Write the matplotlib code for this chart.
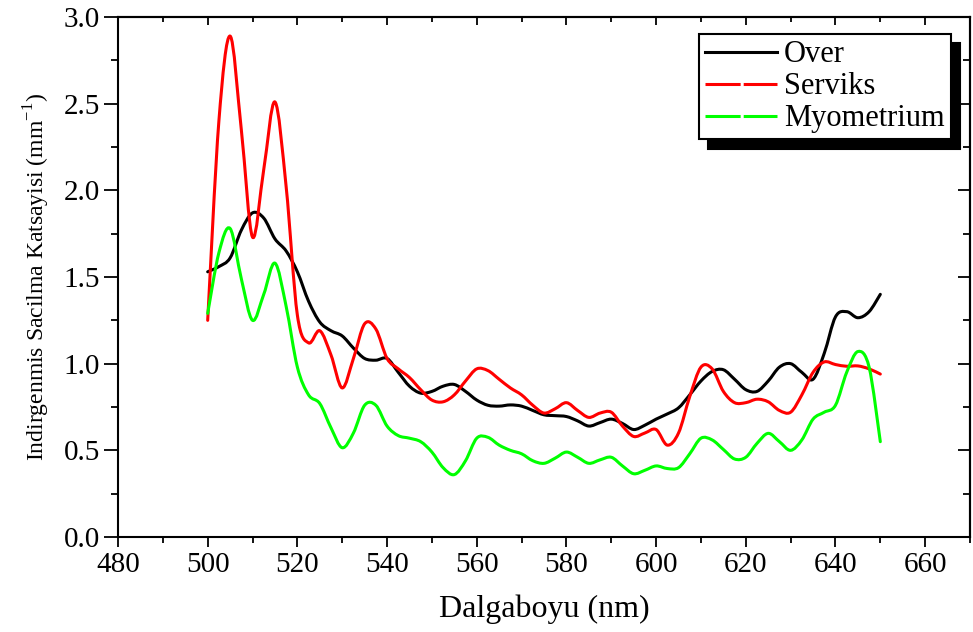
import numpy as np
import matplotlib
matplotlib.use("Agg")
from matplotlib import pyplot as plt
from matplotlib.lines import Line2D
from matplotlib.patches import PathPatch
from matplotlib.path import Path
from matplotlib.ticker import MultipleLocator, FormatStrFormatter


plt.rcParams['font.family'] = ['Liberation Serif', 'DejaVu Serif']
plt.rcParams['mathtext.fontset'] = 'custom'
plt.rcParams['mathtext.rm'] = 'Liberation Serif'

# wavelength grid (nm), one reading every 2.5 nm
wavelength = np.arange(500, 650.1, 2.5)

over = [1.53, 1.56, 1.61, 1.77, 1.87, 1.84, 1.72, 1.65, 1.53, 1.36,
        1.24, 1.19, 1.16, 1.09, 1.03, 1.02, 1.03, 0.95, 0.87, 0.83,
        0.84, 0.87, 0.88, 0.84, 0.79, 0.76, 0.755, 0.762, 0.755, 0.73,
        0.705, 0.70, 0.695, 0.67, 0.64, 0.66, 0.68, 0.655, 0.62, 0.645,
        0.68, 0.71, 0.745, 0.82, 0.90, 0.955, 0.965, 0.91, 0.85, 0.84,
        0.90, 0.98, 1.00, 0.95, 0.91, 1.06, 1.27, 1.30, 1.265, 1.30,
        1.40]

serviks = [1.25, 2.40, 2.89, 2.35, 1.73, 2.12, 2.51, 2.02, 1.28, 1.12,
           1.19, 1.05, 0.86, 1.03, 1.23, 1.20, 1.03, 0.97, 0.92, 0.85,
           0.79, 0.78, 0.82, 0.90, 0.97, 0.96, 0.91, 0.86, 0.82, 0.76,
           0.715, 0.74, 0.775, 0.73, 0.69, 0.715, 0.72, 0.64, 0.58, 0.60,
           0.62, 0.53, 0.60, 0.81, 0.98, 0.97, 0.84, 0.775, 0.775, 0.795,
           0.78, 0.73, 0.72, 0.82, 0.95, 1.01, 0.995, 0.985, 0.987, 0.97,
           0.94]

myometrium = [1.29, 1.64, 1.78, 1.49, 1.25, 1.40, 1.58, 1.33, 0.98, 0.82,
              0.77, 0.63, 0.515, 0.60, 0.76, 0.76, 0.64, 0.585, 0.57, 0.55,
              0.49, 0.40, 0.36, 0.44, 0.57, 0.575, 0.53, 0.50, 0.48, 0.44,
              0.425, 0.455, 0.49, 0.46, 0.425, 0.445, 0.46, 0.41, 0.365, 0.385,
              0.41, 0.395, 0.40, 0.48, 0.57, 0.56, 0.505, 0.45, 0.46, 0.54,
              0.598, 0.55, 0.50, 0.56, 0.68, 0.72, 0.76, 0.95, 1.07, 0.98,
              0.55]

series = [("Over", over, "black"),
          ("Serviks", serviks, "#ff0000"),
          ("Myometrium", myometrium, "#00ff00")]


def spline_path(x, y):
    """Catmull-Rom curve through the points, written as cubic Bezier segments."""
    pts = np.column_stack([x, y]).astype(float)
    padded = np.vstack([pts[0], pts, pts[-1]])
    verts = [pts[0]]
    codes = [Path.MOVETO]
    for i in range(len(pts) - 1):
        p0, p1, p2, p3 = padded[i], padded[i + 1], padded[i + 2], padded[i + 3]
        verts += [p1 + (p2 - p0) / 6, p2 - (p3 - p1) / 6, p2]
        codes += [Path.CURVE4] * 3
    return Path(verts, codes)


fig = plt.figure(figsize=(9.73, 6.32), dpi=100)
ax = fig.add_axes([118 / 973, 1 - 537 / 632, (970 - 118) / 973, 520 / 632])

handles = []
for label, values, color in series:
    ax.add_patch(PathPatch(spline_path(wavelength, values), facecolor='none',
                           edgecolor=color, lw=2.2, joinstyle='round',
                           capstyle='round'))
    if color == "black":
        handles.append(Line2D([], [], color=color, lw=2.2, label=label))
    else:
        handles.append(Line2D([], [], color=color, lw=2.2, dashes=(11.5, 1.0),
                              label=label))

ax.set_xlim(480, 670)
ax.set_ylim(0, 3.0)
ax.xaxis.set_major_locator(MultipleLocator(20))
ax.xaxis.set_minor_locator(MultipleLocator(10))
ax.yaxis.set_major_locator(MultipleLocator(0.5))
ax.yaxis.set_minor_locator(MultipleLocator(0.25))
ax.yaxis.set_major_formatter(FormatStrFormatter('%.1f'))

for side in ax.spines.values():
    side.set_linewidth(1.5)

ax.tick_params(axis='both', which='both', width=1.3, labelsize=21)
ax.tick_params(axis='x', which='major', direction='out', length=7.5, pad=3)
ax.tick_params(axis='x', which='minor', direction='out', length=4.5)
ax.tick_params(axis='y', which='major', direction='out', length=10, pad=3)
ax.tick_params(axis='y', which='minor', direction='out', length=5)

# mirrored ticks on the top and right sides point inward
top = ax.secondary_xaxis('top')
top.xaxis.set_major_locator(MultipleLocator(20))
top.xaxis.set_minor_locator(MultipleLocator(10))
top.tick_params(which='major', direction='in', length=6, width=1.3, labeltop=False)
top.tick_params(which='minor', direction='in', length=3.5, width=1.3)
top.spines['top'].set_linewidth(1.5)
right = ax.secondary_yaxis('right')
right.yaxis.set_major_locator(MultipleLocator(0.5))
right.yaxis.set_minor_locator(MultipleLocator(0.25))
right.tick_params(which='major', direction='in', length=9, width=1.3, labelright=False)
right.tick_params(which='minor', direction='in', length=5, width=1.3)
right.spines['right'].set_linewidth(1.5)

ax.set_xlabel("Dalgaboyu (nm)", fontsize=23, labelpad=12)
ax.set_ylabel(r"Indirgenmis Sacilma Katsayisi (mm$^{\mathrm{-1}}$)", fontsize=17,
              labelpad=8)

leg = ax.legend(handles=handles, loc='upper left',
                bbox_to_anchor=(0.682, 0.967), borderaxespad=0,
                fontsize=22, handlelength=2.35, handletextpad=0.23,
                borderpad=0.2, labelspacing=0.1, fancybox=False,
                framealpha=1, edgecolor='black',
                shadow={'ox': 6.5, 'oy': -6.5, 'color': 'black', 'alpha': 1})
leg.get_frame().set_linewidth(1.5)

fig.savefig("out.png", dpi=100)
